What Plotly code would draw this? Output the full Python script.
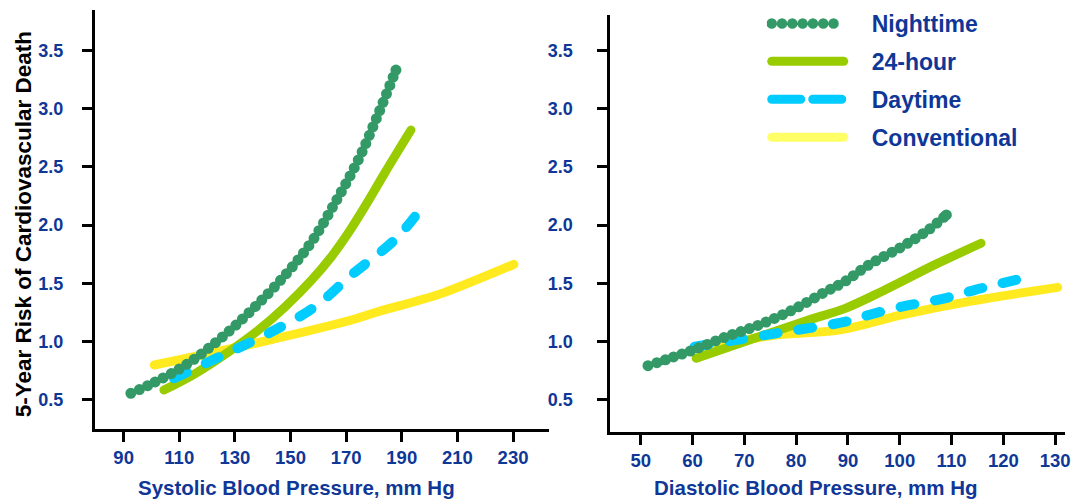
import plotly.graph_objects as go

# ---------------- data ----------------
series_names = ["Nighttime", "24-hour", "Daytime", "Conventional"]

# Systolic panel
sys_night_x = [92.6, 100.4, 112.3, 124.2, 136.1, 148.1, 157.6, 165.9, 174.3, 181.4, 187.9]
sys_night_y = [0.555, 0.641, 0.798, 1.013, 1.271, 1.571, 1.857, 2.187, 2.557, 2.946, 3.332]
sys_24h_x = [104.5, 115.9, 127.8, 138.5, 148.1, 157.6, 164.7, 170.7, 176.7, 183.8, 193.3]
sys_24h_y = [0.583, 0.727, 0.912, 1.099, 1.299, 1.528, 1.729, 1.930, 2.158, 2.445, 2.817]
sys_day_x = [108.1, 126.6, 142.1, 158.8, 171.9, 187.4, 194.7]
sys_day_y = [0.684, 0.893, 1.070, 1.299, 1.571, 1.872, 2.072]
sys_conv_x = [101.0, 139.7, 171.9, 181.4, 195.7, 205.2, 230.3]
sys_conv_y = [0.798, 0.998, 1.185, 1.256, 1.350, 1.420, 1.663]

# Diastolic panel
dia_night_x = [51.4, 55.6, 60.1, 66.5, 72.8, 79.3, 85.7, 89.2, 94.0, 100.4, 105.5, 109.0]
dia_night_y = [0.792, 0.856, 0.927, 1.041, 1.142, 1.271, 1.428, 1.510, 1.657, 1.814, 1.958, 2.087]
dia_24h_x = [60.7, 72.8, 82.4, 89.5, 97.2, 106.8, 115.7]
dia_24h_y = [0.856, 1.041, 1.185, 1.285, 1.445, 1.660, 1.844]
dia_day_x = [60.4, 78.0, 89.5, 94.0, 100.4, 108.7, 114.4, 123.7]
dia_day_y = [0.955, 1.084, 1.170, 1.228, 1.299, 1.371, 1.442, 1.543]
dia_conv_x = [62.0, 68.3, 76.0, 88.5, 100.4, 113.2, 130.5]
dia_conv_y = [0.940, 0.998, 1.056, 1.100, 1.228, 1.342, 1.465]

sys_ticks = [90, 110, 130, 150, 170, 190, 210, 230]
dia_ticks = [50, 60, 70, 80, 90, 100, 110, 120, 130]
y_ticks = [0.5, 1.0, 1.5, 2.0, 2.5, 3.0, 3.5]

x_title_left = "Systolic Blood Pressure, mm Hg"
x_title_right = "Diastolic Blood Pressure, mm Hg"
y_title = "5-Year Risk of Cardiovascular Death"

# ---------------- styles ----------------
NAVY = "#0f3797"
FONT = "Liberation Sans, Arial, sans-serif"
styles = {
    "Nighttime": dict(color="#339966", width=11, dash="0px,9px"),
    "24-hour": dict(color="#99cc00", width=9, dash="solid"),
    "Daytime": dict(color="#00ccff", width=10, dash="14px,21px"),
    "Conventional": dict(color="#ffea20", width=9, dash="solid"),
}
ranks = {"Nighttime": 1, "24-hour": 2, "Daytime": 3, "Conventional": 4}

fig = go.Figure()

panels = [
    ("x", "y", {"Nighttime": (sys_night_x, sys_night_y), "24-hour": (sys_24h_x, sys_24h_y),
                "Daytime": (sys_day_x, sys_day_y), "Conventional": (sys_conv_x, sys_conv_y)}, False),
    ("x2", "y2", {"Nighttime": (dia_night_x, dia_night_y), "24-hour": (dia_24h_x, dia_24h_y),
                  "Daytime": (dia_day_x, dia_day_y), "Conventional": (dia_conv_x, dia_conv_y)}, True),
]
draw_order = ["Conventional", "24-hour", "Daytime", "Nighttime"]
for xa, ya, data, show in panels:
    for name in draw_order:
        xs, ys = data[name]
        st = styles[name]
        fig.add_trace(go.Scatter(
            x=xs, y=ys, xaxis=xa, yaxis=ya, mode="lines",
            name="\u2003" + name,  # em space: gap between legend sample and label
            line=dict(color=st["color"], width=st["width"], dash=st["dash"], shape="spline"),
            showlegend=show, legendgroup=name, legendrank=ranks[name], hoverinfo="skip"))
    # closing dot at the end of the dotted (Nighttime) curve
    nx, ny = data["Nighttime"]
    fig.add_trace(go.Scatter(
        x=[nx[-1]], y=[ny[-1]], xaxis=xa, yaxis=ya, mode="markers",
        marker=dict(color=styles["Nighttime"]["color"], size=11, line=dict(width=0)),
        showlegend=False, hoverinfo="skip"))

W, H = 1082, 502
xtickfont = dict(family=FONT, size=18.5, color=NAVY, weight="bold")
ytickfont = dict(family=FONT, size=18, color=NAVY, weight="bold")
common_axis = dict(showline=True, linecolor="black", linewidth=3, ticks="outside", ticklen=10,
                   tickwidth=3, tickcolor="black", showgrid=False, zeroline=False)

fig.update_layout(
    width=W, height=H, margin=dict(l=0, r=0, t=0, b=0),
    paper_bgcolor="white", plot_bgcolor="white",
    xaxis=dict(domain=[95.5 / W, 551.7 / W], range=[79.7, 242.8], tickvals=sys_ticks,
               anchor="y", ticklabelstandoff=0, tickfont=xtickfont, **common_axis),
    yaxis=dict(domain=[(H - 429.2) / H, (H - 10) / H], range=[0.2466, 3.848], tickvals=y_ticks,
               tickformat=".1f", anchor="x", ticklabelstandoff=15, tickfont=ytickfont, **common_axis),
    xaxis2=dict(domain=[613.8 / W, 1070.7 / W], range=[44.14, 131.86], tickvals=dia_ticks,
                anchor="y2", ticklabelstandoff=0, tickfont=xtickfont, **common_axis),
    yaxis2=dict(domain=[(H - 431.8) / H, (H - 15) / H], range=[0.2242, 3.805], tickvals=y_ticks,
                tickformat=".1f", anchor="x2", ticklabelstandoff=21, tickfont=ytickfont, **common_axis),
    legend=dict(x=771 / W, y=(H - 2) / H, xanchor="left", yanchor="top",
                font=dict(family=FONT, size=23, color=NAVY, weight="bold"),
                itemwidth=72, tracegroupgap=5, bgcolor="rgba(0,0,0,0)", traceorder="grouped"),
    annotations=[
        dict(text=x_title_left, xref="paper", yref="paper", x=298 / W, y=(H - 487) / H,
             xanchor="center", yanchor="middle", showarrow=False,
             font=dict(family=FONT, size=20.5, color=NAVY, weight="bold")),
        dict(text=x_title_right, xref="paper", yref="paper", x=821 / W, y=(H - 487) / H,
             xanchor="center", yanchor="middle", showarrow=False,
             font=dict(family=FONT, size=20.5, color=NAVY, weight="bold")),
        dict(text=y_title, xref="paper", yref="paper", x=23.5 / W, y=(H - 224) / H,
             xanchor="center", yanchor="middle", showarrow=False, textangle=-90,
             font=dict(family=FONT, size=22.5, color="black", weight="bold")),
    ],
)

post = """
var s=document.createElement('style');
s.textContent='html,body{margin:0;padding:0;overflow:hidden;} .js-line{stroke-linecap:round !important;stroke-linejoin:round !important;}';
document.head.appendChild(s);
var gd=document.getElementById('{plot_id}');
function fixLegend(){
  document.querySelectorAll('.legend .traces').forEach(function(t){
    var te=t.querySelector('.legendtext'); var txt=te?te.textContent:'';
    var ln=t.querySelector('.js-line'); if(!ln) return;
    ln.style.strokeWidth='9px';
    if(txt.indexOf('Nighttime')>=0){ln.style.strokeWidth='10.5px';ln.style.strokeDasharray='0px,10.3px';}
    if(txt.indexOf('Daytime')>=0){ln.style.strokeDasharray='29px,12px';}
    if(txt.indexOf('Conventional')>=0){ln.style.stroke='#ffff66';}
  });
}
fixLegend();
if(gd && gd.on){gd.on('plotly_afterplot', fixLegend);}
"""
fig.write_html("out.html", post_script=post, config={"displayModeBar": False})
